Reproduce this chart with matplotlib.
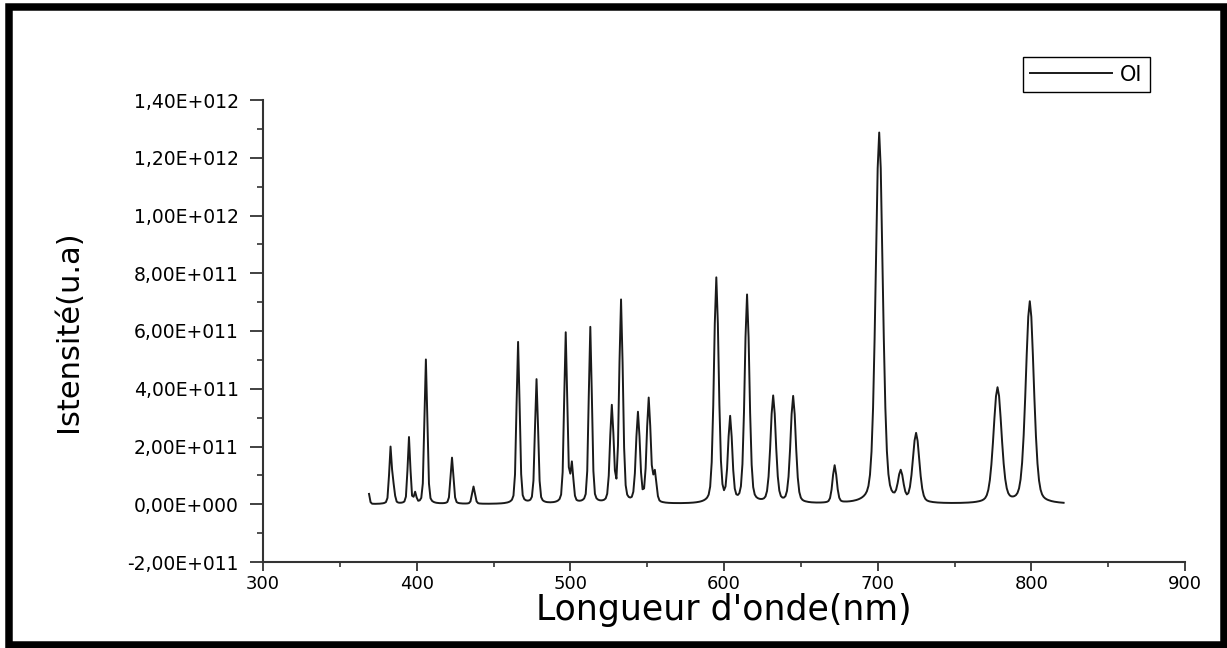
import numpy as np
import matplotlib
matplotlib.use("Agg")
import matplotlib.pyplot as plt
from matplotlib.ticker import MultipleLocator, FuncFormatter
from matplotlib.patches import Rectangle

# emission lines: centre (nm), peak height, full width (nm)
peak_nm = [369, 383, 385, 395, 399, 406, 423, 437, 466, 478, 497, 501, 513,
           527, 533, 544, 551, 555, 595, 604, 615, 632, 645, 672, 701, 715,
           725, 778, 799]
peak_height = [0.35e11, 1.95e11, 0.5e11, 2.3e11, 0.35e11, 5.0e11, 1.6e11,
               0.6e11, 5.6e11, 4.3e11, 5.9e11, 1.3e11, 6.1e11, 3.3e11, 7.0e11,
               3.1e11, 3.6e11, 1.0e11, 7.8e11, 2.9e11, 7.2e11, 3.7e11, 3.7e11,
               1.3e11, 12.85e11, 1.0e11, 2.4e11, 4.0e11, 7.0e11]
peak_fwhm = [1.2, 2.0, 1.8, 2.0, 1.8, 2.2, 2.2, 2.2, 2.4, 2.4, 2.4, 2.2, 2.4,
             2.8, 2.8, 3.0, 3.0, 2.4, 3.6, 3.2, 3.6, 4.0, 4.0, 3.2, 5.5, 4.0,
             5.0, 6.2, 6.2]
lorentz_frac = 0.3
wl_start, wl_end = 369, 821

# spectrum sampled every nm, built from the line list (pseudo-Voigt profiles)
wl = np.arange(wl_start, wl_end + 1, 1.0)
intensity = np.zeros_like(wl)
for c, h, w in zip(peak_nm, peak_height, peak_fwhm):
    d = (wl - c) / (w / 2)
    intensity += h * ((1 - lorentz_frac) * np.exp(-np.log(2) * d ** 2)
                      + lorentz_frac / (1 + d ** 2))

plt.rcParams['font.family'] = 'DejaVu Sans'

fig = plt.figure(figsize=(12.27, 6.48), dpi=100)
ax = fig.add_axes([263/1227, 1 - 562/648, (1185-263)/1227, (562-100)/648])

ax.plot(wl, intensity, color='#1a1a1a', lw=1.4, label='OI')

ax.set_xlim(300, 900)
ax.set_ylim(-2e11, 1.4e12)
ax.xaxis.set_major_locator(MultipleLocator(100))
ax.xaxis.set_minor_locator(MultipleLocator(50))
ax.yaxis.set_major_locator(MultipleLocator(2e11))
ax.yaxis.set_minor_locator(MultipleLocator(1e11))


def sci_fmt(v, pos):
    m, e = f"{v:.2E}".split('E')
    return f"{m.replace('.', ',')}E{int(e):+04d}"


ax.yaxis.set_major_formatter(FuncFormatter(sci_fmt))
ax.yaxis.get_offset_text().set_visible(False)

for s in ['top', 'right']:
    ax.spines[s].set_visible(False)
for s in ['left', 'bottom']:
    ax.spines[s].set_linewidth(1.5)
    ax.spines[s].set_color('#333333')

ax.tick_params(axis='y', which='major', direction='out', length=9.5, width=1.3,
               color='#333333', labelsize=13.5, pad=8)
ax.tick_params(axis='y', which='minor', direction='out', length=4.5, width=1.2,
               color='#333333')
ax.tick_params(axis='x', which='major', direction='out', length=6.5, width=1.3,
               color='#333333', labelsize=13, pad=3)
ax.tick_params(axis='x', which='minor', direction='out', length=3.5, width=1.2,
               color='#333333')

ax.set_xlabel("Longueur d'onde(nm)", fontsize=25, labelpad=0)
ax.set_ylabel("Istensité(u.a)", fontsize=22, labelpad=32)

leg = fig.legend(loc='upper right', bbox_to_anchor=(1160/1227, 1 - 47/648),
                 fontsize=15, handlelength=3.9, fancybox=False,
                 edgecolor='black', framealpha=1, borderpad=0.35,
                 handletextpad=0.4)
leg.get_frame().set_linewidth(1.0)

# thick black border around the whole picture
fig.add_artist(Rectangle((9/1227, 3/648), (1223.5-9)/1227, (645-6.5)/648,
                         transform=fig.transFigure, fill=False,
                         edgecolor='black', linewidth=5.4))

fig.savefig('out.png', dpi=100)
